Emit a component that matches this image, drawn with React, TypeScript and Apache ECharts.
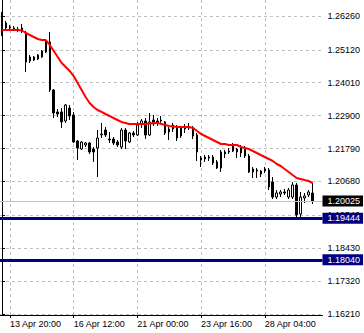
import React, { useEffect, useRef } from "react";
import * as echarts from "echarts";

const opens = [
  1.26328, 1.26025, 1.2589, 1.25856, 1.25822, 1.25856, 1.25687, 1.24743, 1.24878, 1.24811,
  1.24878, 1.25047, 1.25384, 1.23765, 1.23024, 1.23024, 1.2272, 1.23158, 1.22923, 1.22045,
  1.21775, 1.2191, 1.21978, 1.21775, 1.21809, 1.22248, 1.22416, 1.22113, 1.22113, 1.22012,
  1.21843, 1.22416, 1.22012, 1.22315, 1.22248, 1.22619, 1.2272, 1.22248, 1.22754, 1.2272,
  1.2272, 1.22687, 1.22349, 1.22585, 1.22484, 1.22214, 1.22517, 1.22517, 1.22484, 1.22248,
  1.21472, 1.21506, 1.21506, 1.21506, 1.21338, 1.21135, 1.21607, 1.21708, 1.2191, 1.21775,
  1.21843, 1.21775, 1.2154, 1.21001, 1.21068, 1.20933, 1.21102, 1.21068, 1.20663, 1.20157,
  1.20258, 1.20326, 1.20157, 1.20157, 1.20562, 1.19584, 1.20124, 1.20225, 1.20292,
];
const closes = [
  1.25687, 1.25856, 1.25856, 1.25822, 1.25788, 1.25788, 1.2471, 1.24878, 1.24777, 1.24946,
  1.2508, 1.25384, 1.23765, 1.22989, 1.22956, 1.22687, 1.2326, 1.22889, 1.22012, 1.21809,
  1.22012, 1.21978, 1.21675, 1.21675, 1.22146, 1.22281, 1.22248, 1.22079, 1.21978, 1.2191,
  1.22416, 1.22045, 1.22315, 1.22248, 1.22585, 1.2272, 1.22248, 1.22687, 1.22619, 1.22653,
  1.22754, 1.22315, 1.2245, 1.2245, 1.22146, 1.22484, 1.2245, 1.22484, 1.22214, 1.21675,
  1.21405, 1.21439, 1.21472, 1.21304, 1.21135, 1.21675, 1.21675, 1.21675, 1.21708, 1.21675,
  1.21641, 1.2154, 1.21001, 1.21102, 1.21034, 1.21034, 1.21034, 1.20494, 1.20157, 1.20292,
  1.20326, 1.20292, 1.20393, 1.20562, 1.19551, 1.20157, 1.20191, 1.20326, 1.20025,
];
const lows = [
  1.25586, 1.25788, 1.25788, 1.25755, 1.25721, 1.25687, 1.24373, 1.24676, 1.24743, 1.24777,
  1.24845, 1.25013, 1.23698, 1.22821, 1.22855, 1.22484, 1.22653, 1.22754, 1.21978, 1.21405,
  1.21742, 1.21843, 1.21607, 1.21338, 1.20831, 1.22146, 1.2218, 1.21978, 1.2191, 1.21843,
  1.21775, 1.21775, 1.21978, 1.2218, 1.22214, 1.22484, 1.22113, 1.22214, 1.22552, 1.22552,
  1.22653, 1.22248, 1.22079, 1.22349, 1.22045, 1.22146, 1.22315, 1.22416, 1.22113, 1.21371,
  1.21169, 1.21338, 1.21371, 1.21236, 1.21102, 1.21001, 1.21472, 1.21607, 1.21675, 1.21472,
  1.21506, 1.21472, 1.20967, 1.20798, 1.20798, 1.20831, 1.20967, 1.20393, 1.2009, 1.2009,
  1.20157, 1.20225, 1.2009, 1.2009, 1.19449, 1.19483, 1.19955, 1.20157, 1.19921,
];
const highs = [
  1.26396, 1.26092, 1.25957, 1.25924, 1.2589, 1.25991, 1.25755, 1.24946, 1.24912, 1.24979,
  1.25114, 1.25417, 1.25721, 1.23799, 1.23125, 1.23158, 1.23293, 1.2326, 1.23024, 1.22079,
  1.22045, 1.22012, 1.22012, 1.21843, 1.22416, 1.22652, 1.22517, 1.22349, 1.2218, 1.22079,
  1.22484, 1.22484, 1.22349, 1.22382, 1.22687, 1.22788, 1.22821, 1.22989, 1.22923, 1.22821,
  1.22889, 1.2272, 1.22517, 1.22653, 1.22585, 1.22518, 1.22619, 1.22653, 1.22551, 1.22315,
  1.2154, 1.21573, 1.21573, 1.21573, 1.21405, 1.21742, 1.21742, 1.21809, 1.21978, 1.21809,
  1.2191, 1.21877, 1.21607, 1.21169, 1.21135, 1.21068, 1.21169, 1.21135, 1.20831, 1.20393,
  1.20393, 1.20427, 1.20461, 1.20663, 1.20629, 1.20326, 1.20292, 1.20393, 1.20629,
];
const maValues = [
  1.25788, 1.25788, 1.25788, 1.25788, 1.25788, 1.25771, 1.25687, 1.2562, 1.25552, 1.25485,
  1.25451, 1.25451, 1.25283, 1.2508, 1.24878, 1.24676, 1.24541, 1.24406, 1.24237, 1.24001,
  1.23765, 1.23529, 1.23327, 1.23192, 1.23091, 1.23024, 1.22956, 1.22889, 1.22821, 1.22754,
  1.22687, 1.22653, 1.22619, 1.22619, 1.22619, 1.22619, 1.22619, 1.22636, 1.22653, 1.22653,
  1.22619, 1.22585, 1.22552, 1.22535, 1.22518, 1.22518, 1.22518, 1.22518, 1.22484, 1.22383,
  1.22281, 1.22214, 1.22146, 1.22079, 1.22012, 1.21944, 1.21944, 1.2191, 1.2191, 1.2191,
  1.21843, 1.21809, 1.21775, 1.21708, 1.21641, 1.21573, 1.21506, 1.21439, 1.21371, 1.2127,
  1.21203, 1.21102, 1.21001, 1.20899, 1.20798, 1.20764, 1.2073, 1.20697, 1.20629,
];

const tickIndices = [2, 18, 34, 50, 66];
const tickLabels = ["13 Apr 20:00", "16 Apr 12:00", "21 Apr 00:00", "23 Apr 16:00", "28 Apr 04:00"];
const priceTicks = [1.1621, 1.1732, 1.1843, 1.1954, 1.2068, 1.2179, 1.229, 1.2401, 1.2512, 1.2626];
const levelLines = [1.19444, 1.1804];
const bidPrice = 1.20025;
const slotCount = 81;
const priceMin = 1.16178;
const priceMax = 1.268;

const FONT = "'Liberation Sans', Arial, sans-serif";

export default function App() {
  const ref = useRef<HTMLDivElement>(null);

  useEffect(() => {
    if (!ref.current) return;
    const chart = echarts.init(ref.current, null, { renderer: "svg" });
    const slots = Array.from({ length: slotCount }, (_, i) => String(i));
    const candles = opens.map((o, i) => [o, closes[i], lows[i], highs[i]]);

    const labelBase = {
      show: true,
      position: "end",
      distance: 0,
      fontSize: 9,
      fontFamily: FONT,
      color: "#ffffff",
      lineHeight: 11,
      padding: [0, 3, 0, 5],
    };

    chart.setOption({
      animation: false,
      backgroundColor: "#ffffff",
      grid: { left: -1.5, right: 41.5, top: 0, bottom: 18, containLabel: false },
      xAxis: [
        {
          type: "category",
          data: slots,
          boundaryGap: true,
          show: false,
        },
        {
          type: "value",
          min: -0.5,
          max: slotCount - 0.5,
          position: "bottom",
          axisLine: { show: true, lineStyle: { color: "#000000", width: 1 } },
          axisTick: { show: true, customValues: tickIndices, length: 3, lineStyle: { color: "#000000" } },
          axisLabel: {
            show: true,
            customValues: tickIndices,
            formatter: (v: number) => tickLabels[tickIndices.indexOf(Math.round(v))] ?? "",
            align: "left",
            margin: 4,
            fontSize: 9,
            fontFamily: FONT,
            color: "#000000",
          },
          splitLine: { show: true, lineStyle: { color: "#C0C0C0", type: [3, 3], width: 1 } },
        },
      ],
      yAxis: {
        type: "value",
        position: "right",
        min: priceMin,
        max: priceMax,
        axisLine: { show: true, lineStyle: { color: "#000000", width: 1 } },
        axisTick: { show: true, customValues: priceTicks, length: 3, lineStyle: { color: "#000000" } },
        axisLabel: {
          show: true,
          customValues: priceTicks,
          formatter: (v: number) => v.toFixed(5),
          margin: 5,
          fontSize: 9,
          fontFamily: FONT,
          color: "#000000",
        },
        splitLine: { show: true, lineStyle: { color: "#C0C0C0", type: [3, 3], width: 1 } },
      },
      series: [
        {
          type: "candlestick",
          xAxisIndex: 0,
          yAxisIndex: 0,
          data: candles,
          barWidth: 2,
          itemStyle: {
            color: "#ffffff",
            color0: "#000000",
            borderColor: "#000000",
            borderColor0: "#000000",
            borderWidth: 1,
          },
        },
        {
          type: "line",
          xAxisIndex: 0,
          yAxisIndex: 0,
          data: maValues,
          showSymbol: false,
          symbol: "none",
          lineStyle: { color: "#FF0000", width: 2 },
          z: 3,
          markLine: {
            silent: true,
            symbol: ["none", "none"],
            animation: false,
            precision: 5,
            label: labelBase,
            data: [
              {
                yAxis: bidPrice,
                lineStyle: { color: "#C0C0C0", width: 1, type: "solid" },
                label: { ...labelBase, backgroundColor: "#000000", formatter: bidPrice.toFixed(5) },
              },
              ...levelLines.map((v) => ({
                yAxis: v,
                lineStyle: { color: "#000080", width: 3, type: "solid" },
                label: { ...labelBase, backgroundColor: "#000080", formatter: v.toFixed(5) },
              })),
            ],
          },
        },
      ],
    });

    return () => chart.dispose();
  }, []);

  return (
    <div
      ref={ref}
      style={{ position: "fixed", left: 0, top: 0, width: 364, height: 333, background: "#ffffff" }}
    />
  );
}
